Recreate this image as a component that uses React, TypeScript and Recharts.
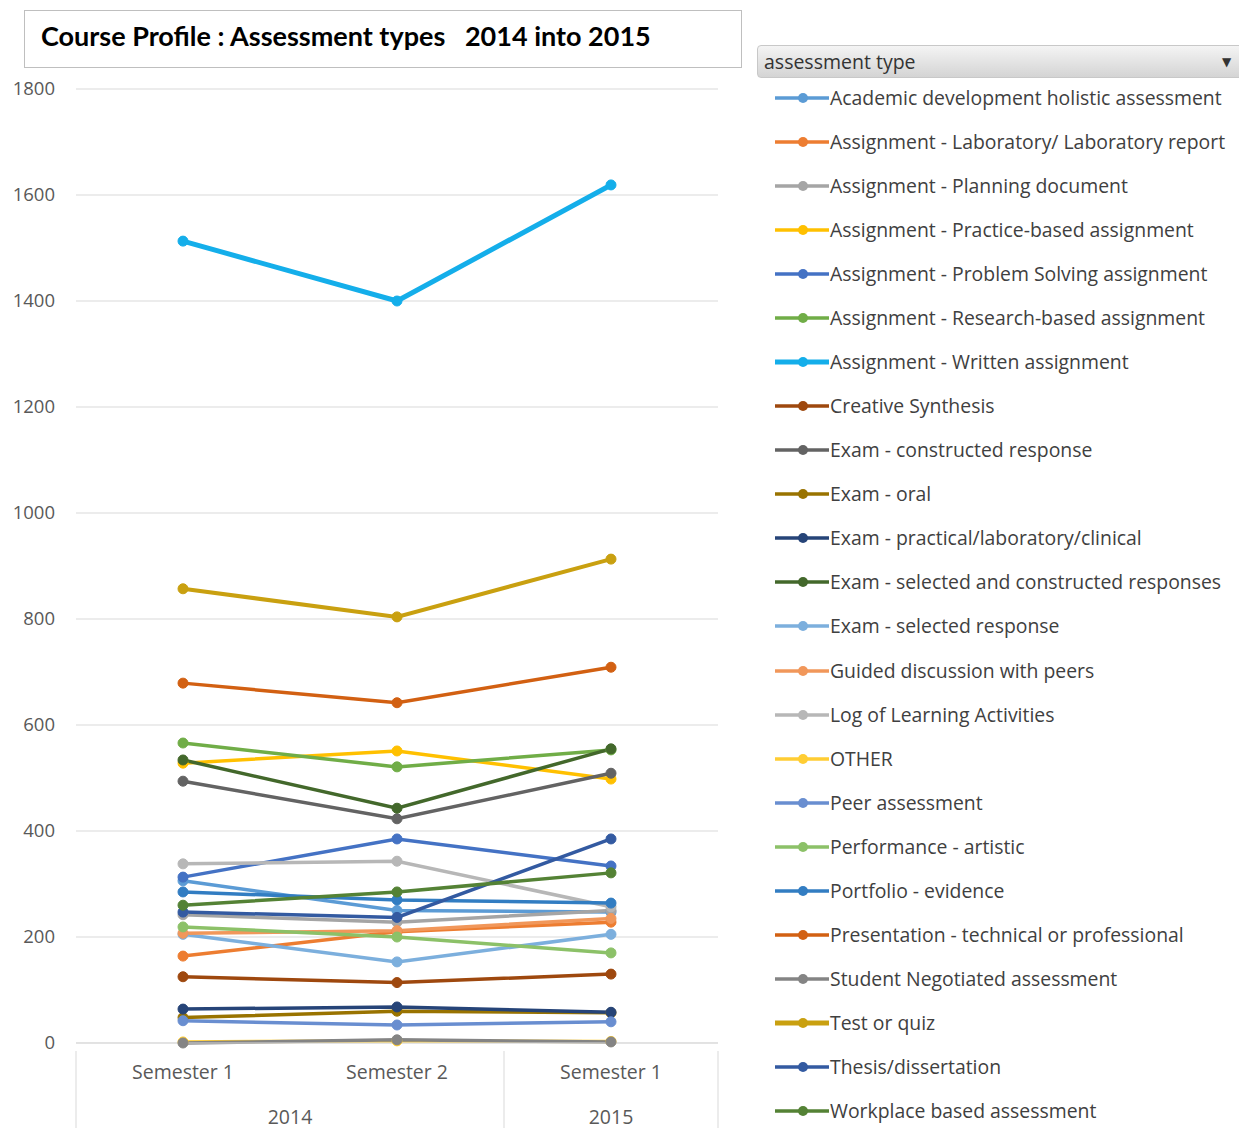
import React from 'react';
import { LineChart, Line, XAxis, YAxis, CartesianGrid } from 'recharts';

const categories = ['Semester 1', 'Semester 2', 'Semester 1'];
const years = ['2014', '2014', '2015'];
const yTicks = [0, 200, 400, 600, 800, 1000, 1200, 1400, 1600, 1800];

// values per semester
const academicDev = [306, 250, 247];
const labReport = [164, 210, 228];
const planningDoc = [242, 228, 250];
const practiceBased = [528, 551, 498];
const problemSolving = [313, 385, 334];
const researchBased = [566, 521, 553];
const writtenAssignment = [1513, 1400, 1619];
const creativeSynthesis = [125, 114, 130];
const examConstructed = [494, 423, 509];
const examOral = [48, 60, 57];
const examPractical = [64, 68, 58];
const examSelectedConstructed = [534, 443, 555];
const examSelected = [205, 153, 205];
const guidedDiscussion = [207, 212, 235];
const logLearning = [338, 343, 257];
const other = [2, 4, 3];
const peerAssessment = [42, 34, 40];
const performanceArtistic = [219, 200, 170];
const portfolio = [285, 270, 264];
const presentation = [679, 642, 709];
const studentNegotiated = [0, 6, 2];
const testQuiz = [857, 804, 913];
const thesis = [247, 237, 385];
const workplace = [260, 285, 321];

const series = [
  { key: 'academic', name: 'Academic development holistic assessment', values: academicDev, color: '#5B9BD5' },
  { key: 'lab', name: 'Assignment - Laboratory/ Laboratory report', values: labReport, color: '#ED7D31' },
  { key: 'planning', name: 'Assignment - Planning document', values: planningDoc, color: '#A5A5A5' },
  { key: 'practice', name: 'Assignment - Practice-based assignment', values: practiceBased, color: '#FFC000' },
  { key: 'problem', name: 'Assignment - Problem Solving assignment', values: problemSolving, color: '#4472C4' },
  { key: 'research', name: 'Assignment - Research-based assignment', values: researchBased, color: '#70AD47' },
  { key: 'written', name: 'Assignment - Written assignment', values: writtenAssignment, color: '#14AEEA', width: 5 },
  { key: 'creative', name: 'Creative Synthesis', values: creativeSynthesis, color: '#9E480E' },
  { key: 'examCr', name: 'Exam - constructed response', values: examConstructed, color: '#636363' },
  { key: 'oral', name: 'Exam - oral', values: examOral, color: '#997300' },
  { key: 'practical', name: 'Exam - practical/laboratory/clinical', values: examPractical, color: '#264478' },
  { key: 'selCon', name: 'Exam - selected and constructed responses', values: examSelectedConstructed, color: '#43682B' },
  { key: 'selected', name: 'Exam - selected response', values: examSelected, color: '#7CAFDD' },
  { key: 'guided', name: 'Guided discussion with peers', values: guidedDiscussion, color: '#F1975A' },
  { key: 'log', name: 'Log of Learning Activities', values: logLearning, color: '#B7B7B7' },
  { key: 'other', name: 'OTHER', values: other, color: '#FFCD33' },
  { key: 'peer', name: 'Peer assessment', values: peerAssessment, color: '#698ED0' },
  { key: 'performance', name: 'Performance - artistic', values: performanceArtistic, color: '#8CC168' },
  { key: 'portfolio', name: 'Portfolio - evidence', values: portfolio, color: '#327DC2' },
  { key: 'presentation', name: 'Presentation - technical or professional', values: presentation, color: '#D26012' },
  { key: 'student', name: 'Student Negotiated assessment', values: studentNegotiated, color: '#848484' },
  { key: 'test', name: 'Test or quiz', values: testQuiz, color: '#C9A010', width: 4 },
  { key: 'thesis', name: 'Thesis/dissertation', values: thesis, color: '#335AA1' },
  { key: 'workplace', name: 'Workplace based assessment', values: workplace, color: '#548235' },
];

const data = categories.map((c, i) => {
  const row: any = { semester: c, year: years[i], idx: i };
  series.forEach(s => { row[s.key] = s.values[i]; });
  return row;
});

const FONT = '"Open Sans", "DejaVu Sans", sans-serif';
const BAND = 214; // width of one category slot in the plot

const YTick = (props: any) => {
  const { y, payload } = props;
  return (
    <text x={55} y={y} dy={6} textAnchor="end" fill="#595959" fontSize={18.5} fontFamily={FONT}>
      {payload.value}
    </text>
  );
};

// two-level category axis: semester on top row, year group below
const XTick = (props: any) => {
  const { x, y, payload, index } = props;
  const half = BAND / 2;
  const year = years[index];
  const first = index === 0 || years[index - 1] !== year;
  const count = years.filter(v => v === year).length;
  const last = index === years.length - 1 || years[index + 1] !== year;
  return (
    <g>
      <text x={x} y={y + 28} textAnchor="middle" fill="#595959" fontSize={19.5} fontFamily={FONT}>
        {payload.value}
      </text>
      {first && (
        <text x={x + (count - 1) * half} y={y + 73} textAnchor="middle" fill="#595959" fontSize={19.5} fontFamily={FONT}>
          {year}
        </text>
      )}
      {index === 0 && <line x1={x - half} x2={x - half} y1={y} y2={y + 90} stroke="#D9D9D9" />}
      {last && <line x1={x + half} x2={x + half} y1={y} y2={y + 90} stroke="#D9D9D9" />}
    </g>
  );
};

const Legend = () => (
  <div style={{ position: 'absolute', left: 757, top: 45, width: 490 }}>
    <div
      style={{
        height: 33,
        borderRadius: 4,
        border: '1px solid #c8c8c8',
        background: 'linear-gradient(#f4f4f4, #d4d4d4)',
        boxSizing: 'border-box',
        position: 'relative',
        fontFamily: FONT,
        fontSize: 19.5,
        color: '#333',
        lineHeight: '31px',
        paddingLeft: 6,
      }}
    >
      assessment type
      <span style={{ position: 'absolute', left: 464, top: 0, fontSize: 12, color: '#333' }}>▼</span>
    </div>
    {series.map((s, i) => (
      <div
        key={s.key}
        style={{ position: 'absolute', top: 38 + i * 44.04, left: 0, height: 30, width: 490 }}
      >
        <svg width={74} height={30} style={{ position: 'absolute', left: 0, top: 0 }}>
          <line x1={18} x2={72} y1={15} y2={15} stroke={s.color} strokeWidth={s.width ? 5 : 3.5} />
          <circle cx={46} cy={15} r={5} fill={s.color} />
        </svg>
        <span
          style={{
            position: 'absolute',
            left: 73,
            top: 0,
            lineHeight: '30px',
            fontFamily: FONT,
            fontSize: 19.4,
            color: '#404040',
            whiteSpace: 'nowrap',
          }}
        >
          {s.name}
        </span>
      </div>
    ))}
  </div>
);

export default function App() {
  return (
    <div style={{ position: 'absolute', left: 0, top: 0, width: 1239, height: 1128, background: '#fff', overflow: 'hidden' }}>
      <div
        style={{
          position: 'absolute',
          left: 24,
          top: 10,
          width: 718,
          height: 58,
          border: '1px solid #BFBFBF',
          boxSizing: 'border-box',
          fontFamily: 'Lato, "Open Sans", sans-serif',
          fontWeight: 700,
          fontSize: 27,
          color: '#000',
          paddingLeft: 16,
          lineHeight: '50px',
          whiteSpace: 'pre',
        }}
      >
        {'Course Profile : Assessment types   2014 into 2015'}
      </div>
      <div style={{ position: 'absolute', left: 0, top: 0 }}>
        <LineChart width={740} height={1128} data={data} margin={{ top: 89, right: 22, bottom: 0, left: 0 }}>
          <CartesianGrid vertical={false} stroke="#D9D9D9" />
          <XAxis
            dataKey="semester"
            interval={0}
            height={85}
            padding={{ left: BAND / 2, right: BAND / 2 }}
            tickLine={false}
            axisLine={{ stroke: '#D9D9D9' }}
            tick={<XTick />}
            allowDuplicatedCategory={true}
          />
          <YAxis
            width={76}
            domain={[0, 1800]}
            ticks={yTicks}
            axisLine={false}
            tickLine={false}
            tick={<YTick />}
          />
          {series.map(s => (
            <Line
              key={s.key}
              dataKey={s.key}
              name={s.name}
              stroke={s.color}
              strokeWidth={s.width || 3.5}
              dot={{ r: 5, fill: s.color, stroke: s.color, strokeWidth: 1 }}
              isAnimationActive={false}
            />
          ))}
        </LineChart>
      </div>
      <Legend />
    </div>
  );
}
